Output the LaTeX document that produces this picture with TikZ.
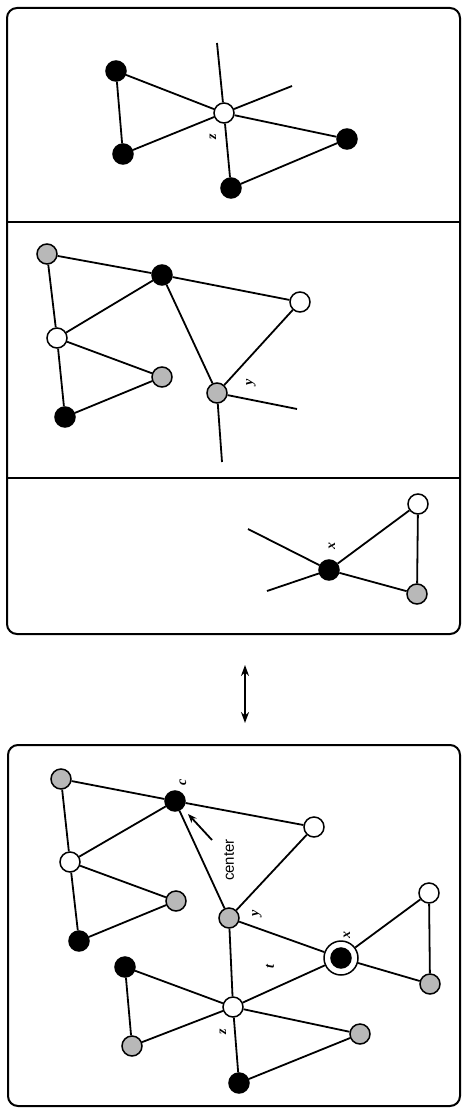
\documentclass[tikz,border=0pt]{standalone}
\usepackage{fontspec}
\setmainfont{Liberation Serif}
\newfontfamily\labsans{Liberation Sans}
\usetikzlibrary{arrows.meta}
\begin{document}
\begin{tikzpicture}[x=1pt,y=-1pt,
  edge/.style={line width=1.8pt},
  vtx/.style={circle,draw,line width=1.5pt,inner sep=0pt,minimum size=20pt},
  bn/.style={vtx,fill=black},
  wn/.style={vtx,fill=white},
  gn/.style={vtx,fill=black!28},
  lab/.style={font=\fontsize{14}{14}\selectfont\bfseries\itshape,rotate=90,inner sep=0pt},
  panel/.style={line width=2pt,rounded corners=10pt}]
\useasboundingbox (0,0) rectangle (461,1108);
\fill[white] (0,0) rectangle (461,1108);
% frames
\draw[panel] (7,8) rectangle (460,634);
\draw[line width=1.8pt] (7,222) -- (460,222);
\draw[line width=1.8pt] (7,478) -- (460,478);
\draw[panel] (8,745) rectangle (460,1106);
% double arrow
\coordinate (au) at (245,665);
\coordinate (ad) at (245,723);
\draw[line width=2pt,{Stealth[length=11pt,width=8pt]}-{Stealth[length=11pt,width=8pt]}] (au) -- (ad);

% ---------- panel 1 ----------
\node[bn] (p1a) at (116,71) {};
\node[bn] (p1b) at (123,154) {};
\node[wn] (p1z) at (224,113) {};
\node[bn] (p1c) at (347,139) {};
\node[bn] (p1d) at (231,188) {};
\coordinate (p1s1) at (217,43);
\coordinate (p1s2) at (292,86);
\draw[edge] (p1a) -- (p1b) (p1a) -- (p1z) (p1b) -- (p1z) (p1z) -- (p1c)
  (p1z) -- (p1d) (p1c) -- (p1d) (p1z) -- (p1s1) (p1z) -- (p1s2);
\node[lab] (p1zl) at (213,137) {z};

% ---------- panel 2 ----------
\node[gn] (p2g1) at (47,254) {};
\node[bn] (p2k) at (162,275) {};
\node[wn] (p2w1) at (300,302) {};
\node[wn] (p2w2) at (57,338) {};
\node[gn] (p2g2) at (162,377) {};
\node[bn] (p2b) at (65,417) {};
\node[gn] (p2y) at (217,393) {};
\coordinate (p2s1) at (297,409);
\coordinate (p2s2) at (222,462);
\draw[edge] (p2g1) -- (p2k) (p2k) -- (p2w1) (p2g1) -- (p2w2) (p2k) -- (p2w2)
  (p2k) -- (p2y) (p2w1) -- (p2y) (p2w2) -- (p2g2) (p2w2) -- (p2b) (p2b) -- (p2g2)
  (p2y) -- (p2s1) (p2y) -- (p2s2);
\node[lab] (p2yl) at (251,382) {y};

% ---------- panel 3 ----------
\node[wn] (p3w) at (418,504) {};
\node[bn] (p3x) at (329,570) {};
\node[gn] (p3g) at (417,594) {};
\coordinate (p3s1) at (248,529);
\coordinate (p3s2) at (267,591);
\draw[edge] (p3x) -- (p3w) (p3x) -- (p3g) (p3w) -- (p3g) (p3x) -- (p3s1) (p3x) -- (p3s2);
\node[lab] (p3xl) at (332,546) {x};

% ---------- bottom panel ----------
\node[gn] (ga) at (61,779) {};
\node[bn] (c) at (175,801) {};
\node[wn] (wa) at (314,827) {};
\node[wn] (wb) at (70,862) {};
\node[gn] (gb) at (176,901) {};
\node[bn] (ba) at (79,941) {};
\node[gn] (y) at (229,918) {};
\node[wn] (wc) at (429,893) {};
\node[bn] (x) at (341,958) {};
\node[circle,draw,line width=1.5pt,minimum size=34pt,inner sep=0pt] (xr) at (341,958) {};
\node[gn] (gc) at (430,984) {};
\node[bn] (bd) at (125,967) {};
\node[wn] (z) at (233,1007) {};
\node[gn] (gd) at (132,1046) {};
\node[gn] (ge) at (360,1034) {};
\node[bn] (be) at (239,1083) {};
\draw[edge] (ga) -- (c) (ga) -- (wb) (c) -- (wb) (c) -- (wa) (c) -- (y) (wa) -- (y)
  (wb) -- (gb) (wb) -- (ba) (ba) -- (gb) (y) -- (z) (y) -- (xr) (xr) -- (wc)
  (xr) -- (gc) (wc) -- (gc) (xr) -- (z) (bd) -- (z) (bd) -- (gd) (gd) -- (z)
  (z) -- (ge) (z) -- (be) (ge) -- (be);
\node[lab] (cl) at (183,782) {c};
\node[lab] (yl) at (257,913) {y};
\node[lab] (xl) at (347,935) {x};
\node[lab] (tl) at (270,967) {t};
\node[lab] (zl) at (223,1032) {z};
\node[font=\labsans\fontsize{15}{15}\selectfont,rotate=90,inner sep=0pt] (ctr) at (229,860) {center};
\coordinate (ctail) at (212,840);
\coordinate (chead) at (188,814);
\draw[line width=1.8pt,-{Stealth[length=9pt,width=7pt]}] (ctail) -- (chead);
\end{tikzpicture}
\end{document}
